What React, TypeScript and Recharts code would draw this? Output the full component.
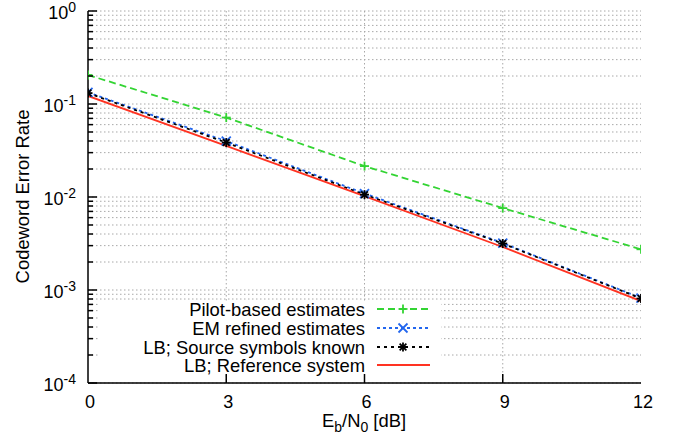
import React from "react";
import { LineChart, Line, XAxis, YAxis, CartesianGrid, Legend } from "recharts";

const snrDb = [0, 3, 6, 9, 12];
const pilotBased = [0.205, 0.0715, 0.0215, 0.0076, 0.00274];
const emRefined = [0.133, 0.0399, 0.0109, 0.0032, 0.00082];
const lbSourceKnown = [0.131, 0.0385, 0.0106, 0.00316, 0.00081];
const lbReference = [0.122, 0.0355, 0.0102, 0.0029, 0.00076];

const xTicks = [0, 3, 6, 9, 12];
const xInnerTicks = [3, 6, 9];
const yMajor = [1e-4, 1e-3, 1e-2, 1e-1, 1];
const yMinorMultipliers = [2, 3, 4, 5, 6, 7, 8, 9];
const yAllTicks: number[] = [];
yMajor.forEach((m, i) => {
  yAllTicks.push(m);
  if (i < yMajor.length - 1) yMinorMultipliers.forEach((k) => yAllTicks.push(k * m));
});

const seriesNames = [
  "Pilot-based estimates",
  "EM refined estimates",
  "LB; Source symbols known",
  "LB; Reference system",
];
const seriesColors = ["#33d433", "#2266ee", "#000000", "#ff3322"];
const seriesDash = ["7 4", "3 3", "3 4", undefined];
const seriesMarker = ["plus", "cross", "star", "none"];

const data = snrDb.map((x, i) => ({
  x,
  pilot: pilotBased[i],
  em: emRefined[i],
  lbs: lbSourceKnown[i],
  lbr: lbReference[i],
}));
const keys = ["pilot", "em", "lbs", "lbr"];

const FONT = "'Liberation Sans', Arial, Helvetica, sans-serif";
const FS = 18.4;

const isMajor = (v: number) => yMajor.some((m) => Math.abs(m - v) / m < 1e-6);

const Marker = ({ cx, cy, kind, color }: any) => {
  const s = 4.5;
  const parts: any[] = [];
  if (kind === "plus" || kind === "star") {
    parts.push(<line key="h" x1={cx - s} x2={cx + s} y1={cy} y2={cy} />);
    parts.push(<line key="v" x1={cx} x2={cx} y1={cy - s} y2={cy + s} />);
  }
  if (kind === "cross" || kind === "star") {
    const d = kind === "star" ? s * 0.75 : s;
    parts.push(<line key="a" x1={cx - d} x2={cx + d} y1={cy - d} y2={cy + d} />);
    parts.push(<line key="b" x1={cx - d} x2={cx + d} y1={cy + d} y2={cy - d} />);
  }
  return (
    <g stroke={color} strokeWidth={1.8} fill="none" strokeDasharray="none">
      {parts}
    </g>
  );
};

const makeDot = (idx: number) => (props: any) => {
  const { cx, cy, index } = props;
  if (seriesMarker[idx] === "none") return <g key={`d${idx}-${index}`} />;
  return (
    <g key={`d${idx}-${index}`}>
      <Marker cx={cx} cy={cy} kind={seriesMarker[idx]} color={seriesColors[idx]} />
    </g>
  );
};

const LeftTick = (props: any) => {
  const { x, y, payload } = props;
  const v = payload.value;
  const major = isMajor(v);
  const e = Math.round(Math.log10(v));
  return (
    <g>
      <line x1={x} x2={x + (major ? 9 : 5)} y1={y} y2={y} stroke="#000" strokeWidth={1.5} />
      {major && (
        <text x={x - 12} y={y + 8} textAnchor="end" fontFamily={FONT} fontSize={18} fill="#000">
          <tspan>10</tspan>
          <tspan dy={-7} fontSize={14}>{`${e}`}</tspan>
        </text>
      )}
    </g>
  );
};

const RightTick = (props: any) => {
  const { x, y, payload } = props;
  const major = isMajor(payload.value);
  return <line x1={x} x2={x - (major ? 9 : 5)} y1={y} y2={y} stroke="#000" strokeWidth={1.5} />;
};

const BottomTick = (props: any) => {
  const { x, y, payload } = props;
  const v = payload.value;
  return (
    <g>
      {xInnerTicks.includes(v) && (
        <line x1={x} x2={x} y1={y} y2={y - 9} stroke="#000" strokeWidth={1.5} />
      )}
      <text x={x + 2} y={y + 25} textAnchor="middle" fontFamily={FONT} fontSize={18} fill="#000">
        {v}
      </text>
    </g>
  );
};

const TopTick = (props: any) => {
  const { x, y, payload } = props;
  if (!xInnerTicks.includes(payload.value)) return <g />;
  return <line x1={x} x2={x} y1={y} y2={y + 9} stroke="#000" strokeWidth={1.5} />;
};

const LegendBox = () => {
  const rows = [8, 27, 46, 64];
  return (
    <div style={{ width: 343, height: 72, background: "#fff", overflow: "visible" }}>
      <svg width={343} height={72} style={{ display: "block", overflow: "visible" }}>
        {seriesNames.map((name, i) => (
          <g key={name}>
            <text
              x={267}
              y={rows[i] + 6.5}
              textAnchor="end"
              fontFamily={FONT}
              fontSize={FS}
              fill="#000"
            >
              {name}
            </text>
            <line
              x1={279}
              x2={332}
              y1={rows[i]}
              y2={rows[i]}
              stroke={seriesColors[i]}
              strokeWidth={1.8}
              strokeDasharray={seriesDash[i]}
            />
            {seriesMarker[i] !== "none" && (
              <Marker cx={305} cy={rows[i]} kind={seriesMarker[i]} color={seriesColors[i]} />
            )}
          </g>
        ))}
      </svg>
    </div>
  );
};

export default function App() {
  return (
    <div style={{ position: "absolute", left: 0, top: 0, width: 677, height: 445, background: "#fff" }}>
      <LineChart
        width={677}
        height={445}
        data={data}
        margin={{ top: 11, right: 36, bottom: 32, left: 28 }}
      >
        <CartesianGrid
          xAxisId="b"
          yAxisId="l"
          stroke="#a8a8a8"
          strokeDasharray="1.5 2.5"
          strokeWidth={1}
          horizontalValues={yAllTicks}
          verticalValues={xInnerTicks}
        />
        <XAxis
          xAxisId="b"
          dataKey="x"
          type="number"
          domain={[0, 12]}
          ticks={xTicks}
          interval={0}
          height={30}
          tickSize={0}
          tickMargin={0}
          tickLine={false}
          axisLine={{ stroke: "#000", strokeWidth: 1.5 }}
          tick={BottomTick}
          allowDataOverflow
        />
        <XAxis
          xAxisId="t"
          orientation="top"
          dataKey="x"
          type="number"
          domain={[0, 12]}
          ticks={xTicks}
          interval={0}
          height={0}
          tickSize={0}
          tickMargin={0}
          tickLine={false}
          axisLine={{ stroke: "#000", strokeWidth: 1.5 }}
          tick={TopTick}
          allowDataOverflow
        />
        <YAxis
          yAxisId="l"
          type="number"
          scale="log"
          domain={[1e-4, 1]}
          ticks={yAllTicks}
          interval={0}
          width={60}
          tickSize={0}
          tickMargin={0}
          tickLine={false}
          axisLine={{ stroke: "#000", strokeWidth: 1.5 }}
          tick={LeftTick}
          allowDataOverflow
        />
        <YAxis
          yAxisId="r"
          orientation="right"
          type="number"
          scale="log"
          domain={[1e-4, 1]}
          ticks={yAllTicks}
          interval={0}
          width={0}
          tickSize={0}
          tickMargin={0}
          tickLine={false}
          axisLine={{ stroke: "#000", strokeWidth: 1.5 }}
          tick={RightTick}
          allowDataOverflow
        />
        <Legend
          layout="horizontal"
          verticalAlign="middle"
          align="center"
          wrapperStyle={{ position: "absolute", left: 98, top: 301, width: 343, height: 72, overflow: "visible" }}
          content={() => <LegendBox />}
        />
        {keys.map((k, i) => (
          <Line
            key={k}
            xAxisId="b"
            yAxisId={i === 3 ? "r" : "l"}
            dataKey={k}
            name={seriesNames[i]}
            type="linear"
            stroke={seriesColors[i]}
            strokeWidth={1.8}
            strokeDasharray={seriesDash[i]}
            dot={makeDot(i)}
            activeDot={false}
            isAnimationActive={false}
          />
        ))}
      </LineChart>
      <svg
        width={677}
        height={445}
        style={{ position: "absolute", left: 0, top: 0, pointerEvents: "none" }}
      >
        <text
          x={0}
          y={0}
          transform="translate(28.5 196.5) rotate(-90)"
          textAnchor="middle"
          fontFamily={FONT}
          fontSize={FS}
          fill="#000"
        >
          Codeword Error Rate
        </text>
        <text x={364} y={427} textAnchor="middle" fontFamily={FONT} fontSize={FS} fill="#000">
          <tspan>E</tspan>
          <tspan dy={5} fontSize={14}>b</tspan>
          <tspan dy={-5}>/N</tspan>
          <tspan dy={5} fontSize={14}>0</tspan>
          <tspan dy={-5}> [dB]</tspan>
        </text>
      </svg>
    </div>
  );
}
